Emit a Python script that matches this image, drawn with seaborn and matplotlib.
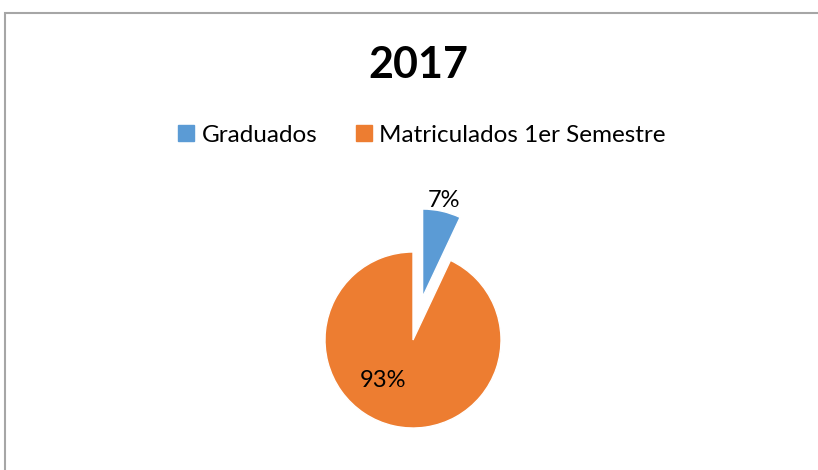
import matplotlib
matplotlib.use('Agg')
import matplotlib.pyplot as plt
import matplotlib.patches as mpatches
import seaborn as sns

# data
categories = ['Graduados', 'Matriculados 1er Semestre']
values = [7, 93]
title_txt = '2017'
colors = ['#5B9BD5', '#ED7D31']

sns.set_style('white')
plt.rcParams['font.family'] = ['Lato', 'DejaVu Sans']
plt.rcParams['text.color'] = 'black'

fig = plt.figure(figsize=(8.18, 4.70), dpi=100)

# chart border (Excel-like frame)
frame = mpatches.Rectangle((5/818, -0.05), 1.2, 1 - 12.5/470 + 0.05, transform=fig.transFigure,
                           fill=False, edgecolor='#a6a6a6', linewidth=1.5)
fig.patches.append(frame)

# pie axes: radius 1 -> 88 px, centre at (413, 340) px
ax = fig.add_axes([237/818, 6.8/470, 352/818, 352/470])
wedges, texts, pcts = ax.pie(values, colors=colors, startangle=90, counterclock=False,
                             explode=[0.5, 0], autopct='%1.0f%%', pctdistance=1.13,
                             textprops={'fontsize': 17, 'color': 'black'})
pcts[1].set_position((-0.34, -0.455))
ax.set_xlim(-2, 2)
ax.set_ylim(-1.4, 2.6)
ax.set_aspect('equal')
ax.axis('off')

fig.text(418/818, 1 - 65/470, title_txt, ha='center', va='center',
         fontsize=31, fontweight='bold', color='black')

handles = [mpatches.Patch(color=c, label=l) for c, l in zip(colors, categories)]
fig.legend(handles=handles, loc='center', bbox_to_anchor=(422/818, 1 - 135/470),
           ncol=2, frameon=False, fontsize=17.5, handlelength=0.65, handleheight=0.65,
           handletextpad=0.3, columnspacing=1.6, labelcolor='black')

fig.savefig('out.png', dpi=100)
